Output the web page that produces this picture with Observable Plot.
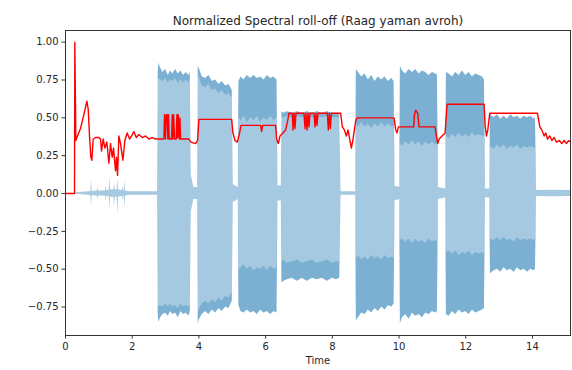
<!DOCTYPE html>
<html>
<head>
<meta charset="utf-8">
<script src="https://cdn.jsdelivr.net/npm/d3@7"></script>
<script src="https://cdn.jsdelivr.net/npm/@observablehq/plot@0.6"></script>
<style>
  html, body { margin: 0; padding: 0; background: #fff; }
  #chart svg { display: block; }
</style>
</head>
<body>
<div id="chart"></div>
<script>
// Waveform envelope of the recording: [time s, max, min, inner max, inner min].
// Inner values mark where the dense, darker part of the envelope begins;
// null means the envelope has no darker band there.
const envelope = [
  [0.30, 0.005, -0.005, null, null],
  [0.70, 0.012, -0.012, null, null],
  [0.76, 0.014, -0.014, null, null],
  [0.78, 0.09, -0.08, null, null],
  [0.80, 0.014, -0.014, null, null],
  [0.95, 0.016, -0.016, null, null],
  [0.97, 0.04, -0.04, null, null],
  [0.99, 0.016, -0.016, null, null],
  [1.20, 0.016, -0.016, null, null],
  [1.22, 0.05, -0.05, null, null],
  [1.24, 0.018, -0.018, null, null],
  [1.31, 0.02, -0.02, null, null],
  [1.33, 0.11, -0.10, null, null],
  [1.35, 0.025, -0.025, null, null],
  [1.45, 0.025, -0.025, null, null],
  [1.47, 0.07, -0.08, null, null],
  [1.49, 0.025, -0.025, null, null],
  [1.55, 0.025, -0.025, null, null],
  [1.57, 0.10, -0.145, null, null],
  [1.59, 0.025, -0.025, null, null],
  [1.70, 0.018, -0.018, null, null],
  [1.72, 0.05, -0.05, null, null],
  [1.74, 0.018, -0.018, null, null],
  [1.76, 0.018, -0.018, null, null],
  [1.78, 0.09, -0.09, null, null],
  [1.80, 0.016, -0.016, null, null],
  [1.90, 0.012, -0.012, null, null],
  [2.50, 0.012, -0.012, null, null],
  [2.76, 0.012, -0.012, null, null],
  // note 1
  [2.78, 0.80, -0.80, 0.74, -0.74],
  [2.80, 0.86, -0.85, 0.76, -0.75],
  [2.85, 0.83, -0.82, 0.75, -0.74],
  [2.92, 0.80, -0.80, 0.74, -0.75],
  [3.00, 0.82, -0.79, 0.76, -0.73],
  [3.08, 0.78, -0.81, 0.73, -0.75],
  [3.15, 0.81, -0.78, 0.75, -0.73],
  [3.22, 0.79, -0.80, 0.74, -0.75],
  [3.30, 0.82, -0.79, 0.76, -0.74],
  [3.38, 0.79, -0.82, 0.73, -0.76],
  [3.46, 0.81, -0.78, 0.75, -0.73],
  [3.54, 0.78, -0.80, 0.73, -0.75],
  [3.62, 0.80, -0.79, 0.75, -0.74],
  [3.70, 0.78, -0.81, 0.73, -0.75],
  [3.74, 0.80, -0.78, 0.75, -0.73],
  [3.77, 0.12, -0.12, null, null],
  [3.85, 0.04, -0.04, null, null],
  [3.96, 0.04, -0.04, null, null],
  // note 2
  [3.98, 0.84, -0.86, 0.78, -0.78],
  [4.02, 0.82, -0.83, 0.76, -0.76],
  [4.10, 0.77, -0.80, 0.71, -0.73],
  [4.20, 0.76, -0.78, 0.70, -0.71],
  [4.30, 0.78, -0.80, 0.72, -0.73],
  [4.40, 0.74, -0.77, 0.68, -0.70],
  [4.50, 0.75, -0.79, 0.69, -0.72],
  [4.60, 0.72, -0.76, 0.66, -0.69],
  [4.70, 0.74, -0.78, 0.68, -0.71],
  [4.80, 0.71, -0.75, 0.65, -0.68],
  [4.90, 0.72, -0.76, 0.66, -0.69],
  [5.00, 0.68, -0.71, 0.63, -0.65],
  [5.03, 0.06, -0.06, null, null],
  [5.18, 0.04, -0.04, null, null],
  // note 3
  [5.20, 0.74, -0.74, 0.50, -0.50],
  [5.26, 0.77, -0.78, 0.48, -0.49],
  [5.35, 0.75, -0.79, 0.51, -0.47],
  [5.45, 0.78, -0.77, 0.47, -0.50],
  [5.55, 0.76, -0.79, 0.50, -0.48],
  [5.65, 0.78, -0.78, 0.48, -0.51],
  [5.75, 0.76, -0.80, 0.51, -0.49],
  [5.85, 0.77, -0.77, 0.47, -0.50],
  [5.95, 0.75, -0.79, 0.50, -0.48],
  [6.05, 0.78, -0.78, 0.48, -0.51],
  [6.15, 0.76, -0.80, 0.51, -0.48],
  [6.25, 0.77, -0.78, 0.48, -0.50],
  [6.34, 0.75, -0.79, 0.50, -0.49],
  [6.37, 0.05, -0.05, null, null],
  [6.47, 0.05, -0.05, null, null],
  // note 4
  [6.49, 0.54, -0.59, 0.50, -0.45],
  [6.55, 0.53, -0.58, 0.50, -0.44],
  [6.65, 0.54, -0.57, 0.51, -0.46],
  [6.80, 0.53, -0.56, 0.50, -0.45],
  [6.95, 0.54, -0.58, 0.51, -0.44],
  [7.10, 0.53, -0.56, 0.50, -0.46],
  [7.25, 0.54, -0.58, 0.51, -0.45],
  [7.40, 0.53, -0.56, 0.50, -0.44],
  [7.55, 0.54, -0.57, 0.51, -0.46],
  [7.70, 0.53, -0.56, 0.50, -0.45],
  [7.85, 0.54, -0.58, 0.51, -0.44],
  [8.00, 0.53, -0.56, 0.50, -0.46],
  [8.12, 0.53, -0.57, 0.50, -0.45],
  [8.22, 0.53, -0.56, 0.50, -0.45],
  [8.26, 0.012, -0.012, null, null],
  [8.70, 0.012, -0.012, null, null],
  // note 5
  [8.72, 0.82, -0.84, 0.46, -0.43],
  [8.78, 0.80, -0.82, 0.44, -0.41],
  [8.88, 0.77, -0.79, 0.47, -0.44],
  [8.98, 0.79, -0.80, 0.44, -0.42],
  [9.08, 0.75, -0.77, 0.46, -0.44],
  [9.18, 0.78, -0.79, 0.43, -0.41],
  [9.28, 0.74, -0.76, 0.46, -0.43],
  [9.38, 0.77, -0.78, 0.44, -0.42],
  [9.48, 0.75, -0.75, 0.47, -0.44],
  [9.58, 0.77, -0.77, 0.44, -0.41],
  [9.68, 0.74, -0.74, 0.46, -0.43],
  [9.78, 0.76, -0.75, 0.44, -0.42],
  [9.85, 0.74, -0.73, 0.45, -0.43],
  [9.88, 0.05, -0.05, null, null],
  [10.02, 0.04, -0.04, null, null],
  // note 6
  [10.04, 0.84, -0.86, 0.33, -0.31],
  [10.10, 0.81, -0.82, 0.31, -0.30],
  [10.20, 0.79, -0.80, 0.34, -0.32],
  [10.30, 0.82, -0.83, 0.32, -0.30],
  [10.40, 0.80, -0.79, 0.35, -0.33],
  [10.50, 0.82, -0.81, 0.32, -0.30],
  [10.60, 0.79, -0.80, 0.34, -0.32],
  [10.70, 0.81, -0.82, 0.31, -0.31],
  [10.80, 0.80, -0.79, 0.34, -0.33],
  [10.90, 0.78, -0.80, 0.32, -0.30],
  [11.00, 0.80, -0.78, 0.34, -0.32],
  [11.10, 0.79, -0.79, 0.32, -0.31],
  [11.15, 0.78, -0.78, 0.33, -0.32],
  [11.18, 0.04, -0.04, null, null],
  [11.40, 0.03, -0.03, null, null],
  // note 7
  [11.42, 0.80, -0.80, 0.38, -0.39],
  [11.50, 0.79, -0.81, 0.36, -0.38],
  [11.60, 0.77, -0.78, 0.39, -0.40],
  [11.70, 0.80, -0.80, 0.37, -0.38],
  [11.80, 0.78, -0.77, 0.40, -0.41],
  [11.90, 0.81, -0.79, 0.37, -0.39],
  [12.00, 0.78, -0.78, 0.39, -0.40],
  [12.10, 0.80, -0.80, 0.37, -0.38],
  [12.20, 0.77, -0.77, 0.40, -0.41],
  [12.30, 0.79, -0.79, 0.38, -0.39],
  [12.40, 0.78, -0.78, 0.39, -0.40],
  [12.50, 0.77, -0.77, 0.38, -0.39],
  [12.56, 0.75, -0.76, 0.38, -0.40],
  [12.59, 0.03, -0.03, null, null],
  [12.72, 0.03, -0.03, null, null],
  // note 8
  [12.74, 0.52, -0.53, 0.31, -0.30],
  [12.85, 0.50, -0.51, 0.29, -0.31],
  [12.95, 0.52, -0.50, 0.32, -0.29],
  [13.05, 0.49, -0.52, 0.30, -0.31],
  [13.15, 0.51, -0.49, 0.32, -0.29],
  [13.25, 0.49, -0.51, 0.29, -0.31],
  [13.35, 0.52, -0.50, 0.31, -0.30],
  [13.45, 0.50, -0.52, 0.30, -0.32],
  [13.55, 0.51, -0.49, 0.32, -0.29],
  [13.65, 0.49, -0.51, 0.29, -0.31],
  [13.75, 0.51, -0.50, 0.31, -0.30],
  [13.85, 0.50, -0.52, 0.30, -0.31],
  [13.95, 0.51, -0.50, 0.31, -0.30],
  [14.05, 0.49, -0.51, 0.30, -0.31],
  [14.09, 0.50, -0.50, 0.30, -0.30],
  [14.12, 0.02, -0.02, null, null],
  [14.60, 0.022, -0.022, null, null],
  [15.14, 0.02, -0.02, null, null]
];

// Normalized spectral roll-off per frame: [time s, value].
const rolloff = [
  [0.00, 0.00], [0.27, 0.00], [0.28, 1.00], [0.31, 0.35], [0.36, 0.38],
  [0.45, 0.43], [0.55, 0.52], [0.64, 0.61], [0.68, 0.56], [0.72, 0.38],
  [0.76, 0.24], [0.79, 0.22], [0.83, 0.36], [0.90, 0.37], [1.00, 0.37],
  [1.05, 0.36], [1.08, 0.28], [1.13, 0.36], [1.18, 0.30], [1.24, 0.34],
  [1.30, 0.20], [1.35, 0.33], [1.40, 0.24], [1.44, 0.30], [1.50, 0.15],
  [1.53, 0.24], [1.56, 0.12], [1.60, 0.38], [1.65, 0.33], [1.72, 0.22],
  [1.78, 0.35], [1.85, 0.40], [1.92, 0.36], [1.98, 0.38], [2.05, 0.41],
  [2.12, 0.37], [2.20, 0.39], [2.30, 0.37], [2.40, 0.38], [2.50, 0.36],
  [2.60, 0.37], [2.70, 0.36], [2.80, 0.36], [2.95, 0.36], [2.97, 0.52],
  [3.00, 0.36], [3.02, 0.52], [3.05, 0.52], [3.07, 0.36], [3.09, 0.52],
  [3.11, 0.36], [3.18, 0.36], [3.20, 0.52], [3.22, 0.36], [3.24, 0.52],
  [3.27, 0.36], [3.32, 0.36], [3.34, 0.52], [3.36, 0.37], [3.38, 0.52],
  [3.41, 0.36], [3.43, 0.50], [3.45, 0.36], [3.70, 0.36], [3.76, 0.34],
  [3.90, 0.33], [3.96, 0.35], [4.00, 0.49], [4.98, 0.49], [5.02, 0.40],
  [5.08, 0.35], [5.15, 0.34], [5.22, 0.40], [5.26, 0.45], [5.85, 0.45],
  [5.88, 0.41], [5.91, 0.45], [6.30, 0.45], [6.33, 0.36], [6.38, 0.33],
  [6.43, 0.38], [6.52, 0.40], [6.60, 0.42], [6.66, 0.48], [6.70, 0.53],
  [6.80, 0.53], [6.82, 0.42], [6.85, 0.53], [6.88, 0.43], [6.91, 0.53],
  [7.15, 0.53], [7.18, 0.43], [7.21, 0.53], [7.24, 0.42], [7.27, 0.53],
  [7.30, 0.44], [7.33, 0.53], [7.45, 0.53], [7.48, 0.44], [7.51, 0.53],
  [7.54, 0.45], [7.57, 0.53], [7.85, 0.53], [7.88, 0.42], [7.91, 0.53],
  [7.94, 0.43], [7.97, 0.53], [8.25, 0.53], [8.30, 0.44], [8.36, 0.42],
  [8.42, 0.38], [8.47, 0.42], [8.52, 0.36], [8.57, 0.30], [8.62, 0.36],
  [8.70, 0.48], [8.74, 0.50], [9.85, 0.50], [9.90, 0.42], [9.94, 0.40],
  [9.98, 0.44], [10.44, 0.44], [10.46, 0.52], [10.50, 0.55], [10.56, 0.53],
  [10.60, 0.44], [11.08, 0.44], [11.12, 0.38], [11.16, 0.33], [11.20, 0.36],
  [11.38, 0.40], [11.44, 0.59], [12.55, 0.59], [12.58, 0.45], [12.62, 0.38],
  [12.66, 0.42], [12.72, 0.53], [14.15, 0.53], [14.22, 0.44], [14.28, 0.42],
  [14.35, 0.38], [14.40, 0.40], [14.45, 0.36], [14.52, 0.38], [14.58, 0.35],
  [14.65, 0.37], [14.72, 0.34], [14.80, 0.35], [14.88, 0.33], [14.95, 0.35],
  [15.02, 0.33], [15.08, 0.35], [15.14, 0.34]
];

const xTicks = [0, 2, 4, 6, 8, 10, 12, 14];
const yTicks = [-0.75, -0.5, -0.25, 0, 0.25, 0.5, 0.75, 1.0];
const title = "Normalized Spectral roll-off (Raag yaman avroh)";
const xLabel = "Time";

const env = envelope.map(([t, hi, lo, hiIn, loIn]) => ({
  t, hi, lo,
  hiIn: hiIn ?? hi,
  loIn: loIn ?? lo
}));
const roll = rolloff.map(([t, v]) => ({t, v}));

const waveColor = "#1f77b4";
const axisColor = "#333";

const chart = Plot.plot({
  width: 572,
  height: 370,
  marginLeft: 65,
  marginRight: 2,
  marginTop: 30,
  marginBottom: 35,
  style: {fontFamily: "DejaVu Sans, sans-serif", fontSize: "10px", color: "#262626", background: "#fff"},
  x: {domain: [0, 15.14], label: null},
  y: {domain: [-0.938, 1.077], label: null},
  marks: [
    // full envelope
    Plot.areaY(env, {x: "t", y1: "lo", y2: "hi", fill: waveColor, fillOpacity: 0.4, curve: "linear"}),
    // darker dense bands near the peaks
    Plot.areaY(env, {x: "t", y1: "hiIn", y2: "hi", fill: waveColor, fillOpacity: 0.3, curve: "linear"}),
    Plot.areaY(env, {x: "t", y1: "lo", y2: "loIn", fill: waveColor, fillOpacity: 0.3, curve: "linear"}),
    // spectral roll-off
    Plot.line(roll, {x: "t", y: "v", stroke: "#ff0000", strokeWidth: 1.4, curve: "linear"}),
    Plot.frame({stroke: axisColor, strokeWidth: 1}),
    Plot.axisX({ticks: xTicks, tickFormat: d3.format("d"), tickSize: 3.5, tickPadding: 3.5, stroke: axisColor, label: null}),
    Plot.axisY({ticks: yTicks, tickFormat: d3.format(".2f"), tickSize: 3.5, tickPadding: 3.5, stroke: axisColor, label: null}),
    Plot.text([xLabel], {text: d => d, frameAnchor: "bottom", dy: 28, fontSize: 10, fill: "#262626"}),
    Plot.text([title], {text: d => d, frameAnchor: "top", dy: -14, fontSize: 12, fill: "#262626"})
  ]
});

document.getElementById("chart").appendChild(chart);
</script>
</body>
</html>
